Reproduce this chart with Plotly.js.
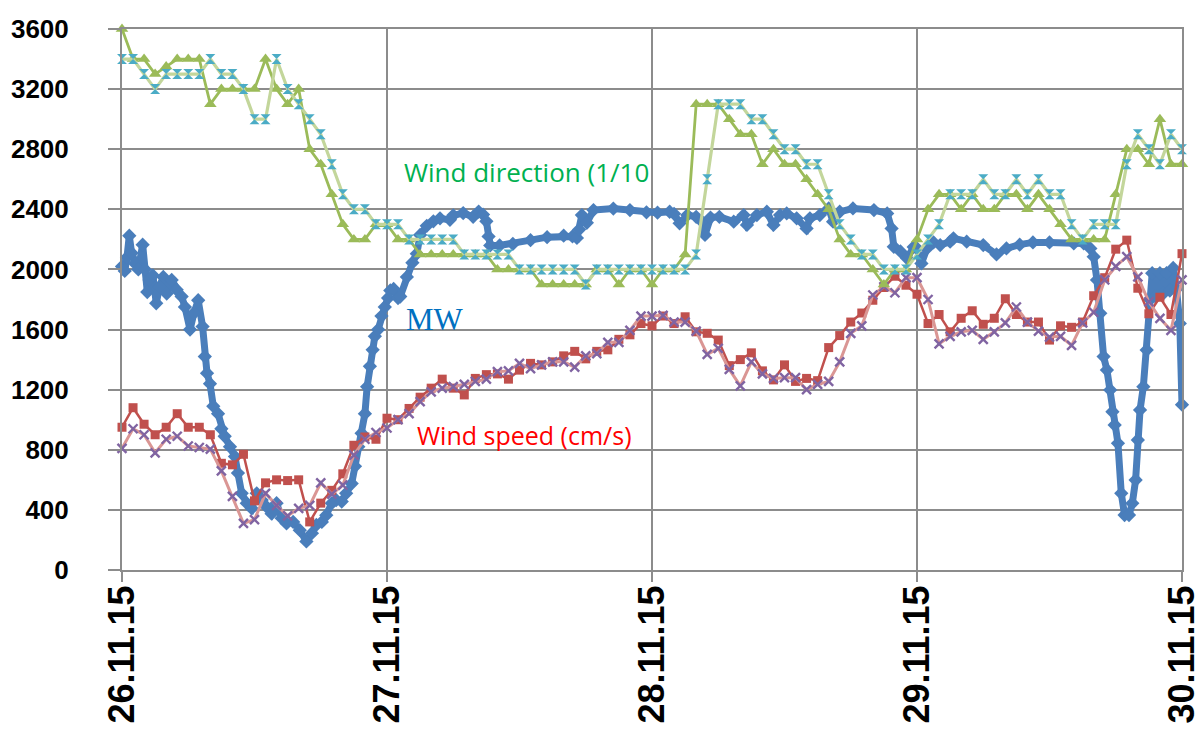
<!DOCTYPE html>
<html>
<head>
<meta charset="utf-8">
<script src="https://cdn.plot.ly/plotly-3.0.1.min.js"></script>
<style>html,body{margin:0;padding:0;background:#fff;}#chart{width:1204px;height:729px;}</style>
</head>
<body>
<div id="chart"></div>
<script>
// Tick labels
const DAY_LABELS = ['26.11.15', '27.11.15', '28.11.15', '29.11.15', '30.11.15'];
const DAY_HOURS = [0, 24, 48, 72, 96];
const Y_TICKS = [0, 400, 800, 1200, 1600, 2000, 2400, 2800, 3200, 3600];

// Hourly series (hour 0 = 26.11.15 00:00)
const DIR_ACTUAL = [3600,3400,3400,3300,3350,3400,3400,3400,3100,3200,
  3200,3200,3200,3400,3200,3100,3200,2800,2700,2500,
  2300,2200,2200,2300,2300,2200,2200,2100,2100,2100,
  2100,2100,2100,2100,2000,2000,2000,2000,1900,1900,
  1900,1900,1900,2000,2000,1900,2000,2000,1900,2000,
  2000,2100,3100,3100,3100,3000,2900,2900,2700,2800,
  2700,2700,2600,2500,2400,2200,2100,2100,2000,1900,
  2000,2000,2200,2400,2500,2500,2400,2500,2400,2400,
  2500,2500,2400,2500,2400,2300,2200,2200,2200,2200,
  2500,2800,2800,2700,3000,2700,2700];

const DIR_FORECAST = [3400,3400,3300,3200,3300,3300,3300,3300,3400,3300,
  3300,3200,3000,3000,3400,3200,3100,3000,2900,2700,
  2500,2400,2400,2300,2300,2300,2200,2200,2200,2200,
  2200,2100,2100,2100,2100,2100,2000,2000,2000,2000,
  2000,2000,1900,2000,2000,2000,2000,2000,2000,2000,
  2000,2000,2100,2600,3100,3100,3100,3000,3000,2900,
  2800,2800,2700,2700,2500,2300,2200,2100,2100,2000,
  2000,2000,2100,2200,2300,2500,2500,2500,2600,2500,
  2500,2600,2500,2600,2500,2500,2300,2200,2300,2300,
  2300,2700,2900,2800,2700,2900,2800];

const SPEED_ACTUAL = [950,1080,970,900,950,1040,950,950,900,710,
  700,770,460,580,600,595,600,320,445,530,
  640,830,885,870,1010,1000,1075,1150,1210,1270,
  1210,1165,1275,1300,1305,1270,1330,1375,1365,1385,
  1425,1455,1405,1455,1465,1535,1565,1640,1625,1690,
  1640,1685,1585,1575,1530,1360,1400,1445,1325,1265,
  1365,1255,1275,1260,1480,1560,1650,1710,1795,1880,
  1955,1895,1835,1640,1700,1585,1675,1725,1635,1675,
  1805,1700,1650,1650,1530,1625,1615,1650,1825,1945,
  2135,2195,1875,1705,1815,1700,2105];

const SPEED_FORECAST = [810,940,900,780,870,890,825,815,805,660,
  490,310,335,510,430,360,410,430,580,505,
  565,765,870,915,945,1000,1040,1120,1185,1210,
  1220,1235,1255,1270,1320,1325,1375,1340,1365,1385,
  1385,1350,1425,1440,1515,1515,1595,1690,1690,1695,
  1650,1650,1590,1435,1475,1335,1225,1385,1305,1275,
  1280,1280,1200,1235,1255,1385,1575,1625,1830,1885,
  1845,1945,1945,1800,1505,1555,1585,1595,1535,1585,
  1645,1750,1650,1590,1550,1555,1495,1645,1715,1930,
  2020,2085,1950,1785,1675,1595,1930];

// MW (sub-hourly), time in hours since 26.11.15 00:00
const MW_HOURS = [0,0.25,0.45,0.66,0.87,1.18,1.48,1.87,2.08,2.29,2.5,2.8,3.1,3.4,3.74,4.05,4.5,4.95,5.4,5.7,
  6.16,6.52,6.9,7.3,7.5,7.7,7.97,8.27,8.7,9.0,9.3,9.78,10.23,10.5,10.84,11.3,11.75,12.2,12.65,13.1,
  13.55,14.0,14.46,14.9,15.5,16.1,16.7,17.2,17.6,18.1,18.5,19.0,19.4,19.9,20.3,20.8,21.1,21.4,21.7,22.0,
  22.2,22.45,22.7,22.9,23.2,23.5,23.8,24.1,24.3,24.6,25.0,25.2,25.8,26.3,26.7,27.0,27.6,28.2,28.8,29.7,
  30.0,30.9,31.8,32.3,32.7,33.0,33.2,33.35,34.2,35.4,37.0,38.5,40.0,40.8,41.2,41.4,41.65,42.1,42.7,44.5,
  46.0,47.5,48.5,49.6,50.0,50.5,51.2,52.0,52.5,52.8,53.3,54.1,55.4,56.3,56.6,57.5,58.4,59.0,59.6,60.2,
  61.1,62.0,62.3,63.2,64.0,64.4,65.0,66.2,68.1,69.3,69.7,69.9,70.5,71.1,71.7,72.0,72.4,72.9,73.5,74.1,
  75.0,75.3,76.5,78.0,79.2,80.1,81.3,82.5,84.0,86.2,87.1,87.7,88.0,88.3,88.6,88.9,89.2,89.5,89.7,89.9,
  90.2,90.5,90.8,91.2,91.5,91.8,92.0,92.2,92.5,92.8,93.1,93.3,93.6,94.0,94.3,94.6,94.9,95.2,95.5,95.8,96.0];
const MW_VALUES = [2020,1990,2080,2225,2110,2040,2000,2165,2000,1850,1930,1960,1775,1885,1950,1840,1930,1865,1820,1750,
  1600,1710,1795,1620,1420,1310,1240,1090,1040,940,890,820,755,645,510,445,410,510,465,420,
  375,445,345,310,320,265,190,245,300,320,365,445,465,455,510,575,690,820,910,1040,
  1220,1355,1465,1555,1600,1690,1750,1810,1860,1870,1810,1820,1950,2045,2105,2230,2290,2320,2340,2330,
  2360,2375,2350,2385,2365,2320,2220,2160,2160,2170,2195,2215,2225,2220,2210,2265,2362,2310,2395,2405,
  2395,2380,2378,2384,2370,2307,2362,2350,2320,2230,2345,2350,2318,2362,2296,2362,2384,2296,2362,2373,
  2340,2273,2340,2362,2406,2318,2384,2406,2395,2373,2273,2151,2120,2074,2150,2140,2040,2140,2180,2162,
  2185,2207,2185,2162,2100,2140,2165,2180,2180,2173,2173,2140,2085,1930,1708,1420,1331,1198,1053,965,
  843,510,366,366,444,599,865,1065,1220,1464,1800,1975,1820,1975,1840,1975,1860,2010,1870,1641,1100];

const hoursOf = arr => arr.map((_, i) => i);

const traces = [
  {
    name: 'MW', x: MW_HOURS, y: MW_VALUES, type: 'scatter', mode: 'lines+markers',
    line: {color: '#4A7EBB', width: 7},
    marker: {symbol: 'diamond', size: 11, color: '#4A7EBB'},
    cliponaxis: false
  },
  {
    name: 'Wind speed (cm/s)', x: hoursOf(SPEED_ACTUAL), y: SPEED_ACTUAL, type: 'scatter', mode: 'lines+markers',
    line: {color: '#C0504D', width: 2.5},
    marker: {symbol: 'square', size: 9, color: '#C0504D'},
    cliponaxis: false
  },
  {
    name: 'Wind speed forecast', x: hoursOf(SPEED_FORECAST), y: SPEED_FORECAST, type: 'scatter', mode: 'lines+markers',
    line: {color: '#DA9694', width: 3},
    marker: {symbol: 'x-thin-open', size: 9, color: '#8064A2', line: {color: '#8064A2', width: 2.4}},
    cliponaxis: false
  },
  {
    name: 'Wind direction (1/10)', x: hoursOf(DIR_ACTUAL), y: DIR_ACTUAL, type: 'scatter', mode: 'lines+markers',
    line: {color: '#9BBB59', width: 2.8},
    marker: {symbol: 'triangle-up', size: 11, color: '#9BBB59'},
    cliponaxis: false
  },
  {
    name: 'Wind direction forecast', x: hoursOf(DIR_FORECAST), y: DIR_FORECAST, type: 'scatter', mode: 'lines+markers',
    line: {color: '#C3D69B', width: 3.2},
    marker: {symbol: 'hourglass', size: 10, color: '#4BACC6'},
    cliponaxis: false
  }
];

const gridColor = '#8c8c8c';
const layout = {
  width: 1204, height: 729,
  margin: {l: 122, r: 22, t: 29, b: 159, pad: 0},
  paper_bgcolor: '#ffffff', plot_bgcolor: '#ffffff',
  showlegend: false,
  xaxis: {
    range: [0, 96], tickmode: 'array', tickvals: DAY_HOURS, ticktext: DAY_LABELS,
    tickangle: -90,
    tickfont: {family: 'Liberation Sans, Arial, sans-serif', size: 36, color: '#000', weight: 'bold'},
    showgrid: true, gridcolor: gridColor, gridwidth: 2,
    ticks: 'outside', ticklen: 10, tickwidth: 2, tickcolor: gridColor,
    ticklabelstandoff: -11,
    showline: true, linecolor: gridColor, linewidth: 2, mirror: true,
    zeroline: false
  },
  yaxis: {
    range: [0, 3600], tickmode: 'array', tickvals: Y_TICKS, ticktext: Y_TICKS.map(String),
    tickfont: {family: 'Liberation Sans, Arial, sans-serif', size: 26, color: '#000', weight: 'bold'},
    showgrid: true, gridcolor: gridColor, gridwidth: 2,
    ticks: 'outside', ticklen: 12, tickwidth: 2, tickcolor: gridColor,
    ticklabelstandoff: 34,
    showline: true, linecolor: gridColor, linewidth: 2, mirror: true,
    zeroline: false
  },
  annotations: [
    {x: 25.4, y: 2648, xref: 'x', yref: 'y', xanchor: 'left', yanchor: 'middle', showarrow: false,
     text: 'Wind direction (1/10', font: {family: 'Open Sans, sans-serif', size: 26, color: '#00B050'}},
    {x: 25.5, y: 1664, xref: 'x', yref: 'y', xanchor: 'left', yanchor: 'middle', showarrow: false,
     text: 'MW', font: {family: 'Liberation Serif, Times New Roman, serif', size: 31, color: '#0070C0'}},
    {x: 26.5, y: 898, xref: 'x', yref: 'y', xanchor: 'left', yanchor: 'middle', showarrow: false,
     text: 'Wind speed (cm/s)', font: {family: 'Open Sans, sans-serif', size: 25, color: '#FF0000'}}
  ]
};

Plotly.newPlot('chart', traces, layout, {displayModeBar: false, staticPlot: true});
</script>
</body>
</html>
